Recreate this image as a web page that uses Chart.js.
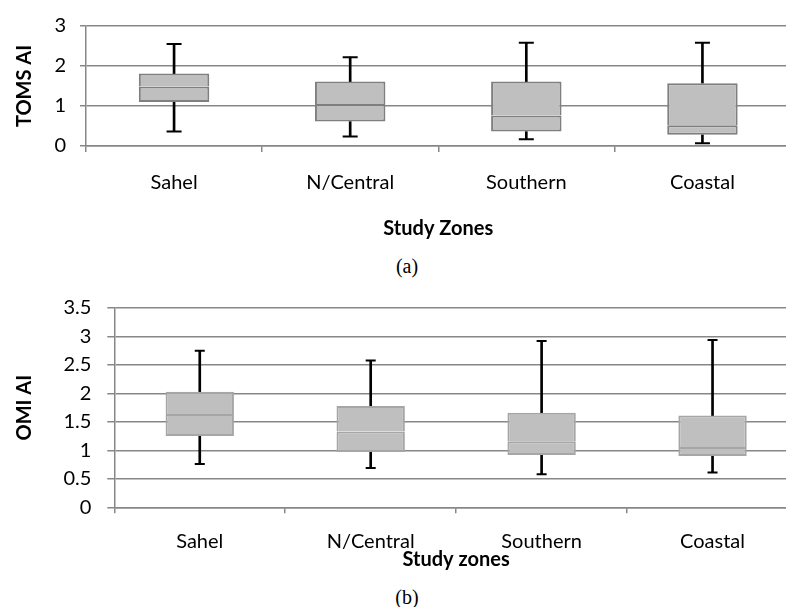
<!DOCTYPE html>
<html>
<head>
<meta charset="utf-8">
<script src="https://cdn.jsdelivr.net/npm/chart.js@4.4.1/dist/chart.umd.min.js"></script>
<style>
  html, body { margin: 0; padding: 0; background: #fff; width: 786px; height: 607px; overflow: hidden; }
  #wrap { position: relative; width: 786px; height: 607px; overflow: hidden; }
  canvas { position: absolute; left: 0; }
  .cap { position: absolute; transform: translate(-50%, -50%); font-family: "Liberation Serif", serif; font-size: 20px; line-height: 1; color: #000; }
</style>
</head>
<body>
<div id="wrap">
  <canvas id="chartA" width="800" height="250" style="top:0"></canvas>
  <div class="cap" style="left:407px; top:266px">(a)</div>
  <canvas id="chartB" width="805" height="300" style="top:280px"></canvas>
  <div class="cap" style="left:407px; top:597px">(b)</div>
</div>
<script>
// --- dados ---
const zones = ['Sahel', 'N/Central', 'Southern', 'Coastal'];

// (a) TOMS AI
const tomsMin = [0.36, 0.24, 0.17, 0.07];
const tomsQ1  = [1.10, 0.61, 0.36, 0.28];
const tomsMed = [1.49, 1.05, 0.76, 0.52];
const tomsQ3  = [1.81, 1.61, 1.61, 1.57];
const tomsMax = [2.55, 2.22, 2.58, 2.58];

// (b) OMI AI
const omiMin = [0.76, 0.69, 0.58, 0.61];
const omiQ1  = [1.25, 0.97, 0.92, 0.90];
const omiMed = [1.64, 1.33, 1.16, 1.06];
const omiQ3  = [2.03, 1.78, 1.66, 1.61];
const omiMax = [2.75, 2.58, 2.92, 2.94];

const GRID = '#878787';
const FILL = '#bfbfbf';

function pairs(a, b) { return a.map((v, i) => [v, b[i]]); }

function boxConfig(d, opt) {
    const boxBar = { type: 'bar', grouped: false, backgroundColor: FILL, borderColor: opt.boxBorder,
                     borderSkipped: false, barPercentage: 0.4, categoryPercentage: 1.0, inflateAmount: 0 };
    const whisker = { type: 'bar', grouped: false, backgroundColor: '#000', borderWidth: 0, barThickness: 2 };
    const cap = { type: 'line', showLine: false, pointStyle: 'line', pointRadius: opt.capR, pointBorderWidth: 2,
                  borderColor: '#000', pointBorderColor: '#000' };
    return {
        type: 'bar',
        data: {
            labels: zones,
            datasets: [
                // metade de baixo (com a linha da mediana no topo) e metade de cima
                Object.assign({ data: pairs(d.q1, d.med), borderWidth: { top: 2, right: 2, bottom: 2, left: 2 } }, boxBar),
                Object.assign({ data: pairs(d.med, d.q3), borderWidth: { top: 2, right: 2, bottom: 0, left: 2 } }, boxBar),
                Object.assign({ data: pairs(d.min, d.q1) }, whisker),
                Object.assign({ data: pairs(d.q3, d.max) }, whisker),
                Object.assign({ data: d.min }, cap),
                Object.assign({ data: d.max }, cap)
            ]
        },
        options: {
            responsive: false,
            animation: false,
            events: [],
            layout: { padding: opt.pad },
            plugins: { legend: { display: false }, tooltip: { enabled: false } },
            scales: {
                x: {
                    offset: true,
                    grid: { offset: true, drawOnChartArea: false, drawTicks: true, tickLength: 6, color: GRID, lineWidth: 1.5 },
                    border: { display: true, color: GRID, width: 1.5 },
                    ticks: { color: '#000', font: { family: 'Lato', size: 20 }, padding: opt.xPad, maxRotation: 0 },
                    title: { display: true, text: opt.xTitle, color: '#000', font: { family: 'Lato', size: 20, weight: 'bold' },
                             padding: { top: 0, bottom: opt.xTitlePad } },
                    afterFit: (s) => { s.height = opt.xHeight; }
                },
                y: {
                    min: 0, max: opt.yMax,
                    ticks: { stepSize: opt.step, color: '#000', font: { family: 'Lato', size: 20 }, padding: opt.yPad,
                             callback: (v) => String(parseFloat(Number(v).toFixed(2))) },
                    grid: { color: GRID, lineWidth: 1.5, tickLength: opt.yTick },
                    border: { display: true, color: GRID, width: 1.5 },
                    title: { display: true, text: opt.yTitle, color: '#000', font: { family: 'Lato', size: 20, weight: 'bold' },
                             padding: { top: 13, bottom: 0 } },
                    afterFit: (s) => { s.width = opt.yWidth; }
                }
            }
        }
    };
}

new Chart(document.getElementById('chartA'), boxConfig(
    { min: tomsMin, q1: tomsQ1, med: tomsMed, q3: tomsQ3, max: tomsMax },
    { boxBorder: '#7f7f7f', capR: 7.5, pad: { top: 20, right: 4, bottom: 0, left: 0 },
      xTitle: 'Study Zones', xPad: 19, xTitlePad: 9, xHeight: 104,
      yTitle: 'TOMS AI', yMax: 3, step: 1, yPad: 14, yTick: 6, yWidth: 86 }
));

new Chart(document.getElementById('chartB'), boxConfig(
    { min: omiMin, q1: omiQ1, med: omiMed, q3: omiQ3, max: omiMax },
    { boxBorder: '#a6a6a6', capR: 5, pad: { top: 25.7, right: 6.3, bottom: 0, left: 0 },
      xTitle: 'Study zones', xPad: 16, xTitlePad: 8, xHeight: 72.7,
      yTitle: 'OMI AI', yMax: 3.5, step: 0.5, yPad: 16, yTick: 7, yWidth: 114.3 }
));
</script>
</body>
</html>
